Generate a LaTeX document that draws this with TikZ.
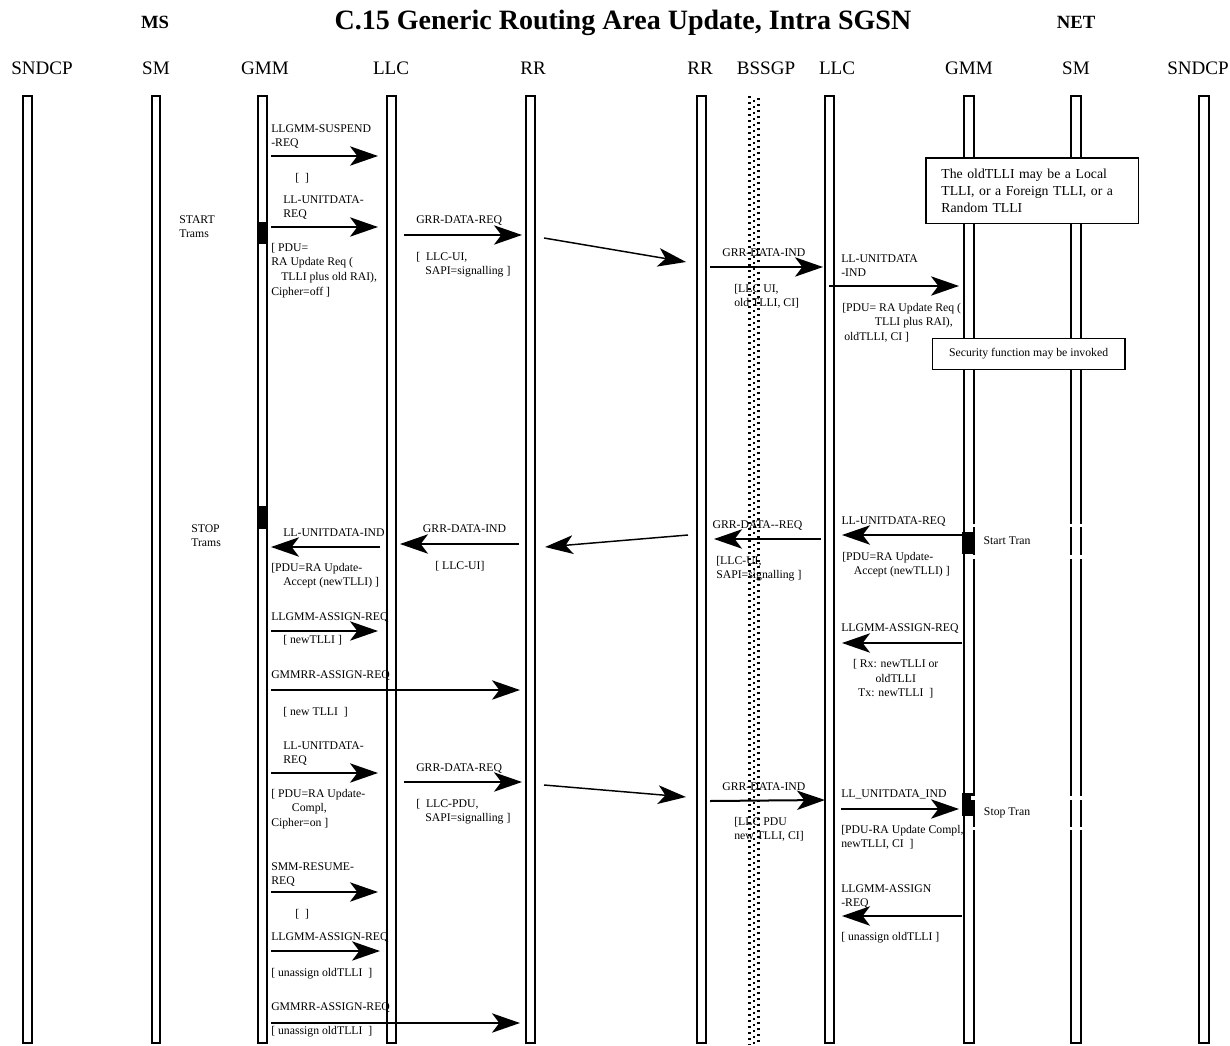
\documentclass[tikz,border=0pt]{standalone}
\usepackage{fontspec}
\setmainfont{Liberation Serif}
\usetikzlibrary{arrows.meta}

\begin{document}
\begin{tikzpicture}[x=0.75pt,y=-0.75pt,
  lifeline/.style={line width=1.4pt},
  msg/.style={line width=1.5pt, -{Stealth[length=21pt, width=14.5pt, inset=5.5pt]}},
  hop/.style={line width=1.1pt, -{Stealth[length=21pt, width=14pt, inset=5.5pt]}},
  hdr/.style={font=\fontsize{14.3}{16}\selectfont, inner sep=0pt},
  lbl/.style={font=\fontsize{8.8}{10.9}\selectfont, align=left, inner sep=0pt, anchor=north west},
  notebox/.style={draw, fill=white, line width=1.2pt, inner sep=0pt},
  actbar/.style={fill=black},
  dots/.style={line width=2pt, dash pattern=on 1.5pt off 3pt}]
\useasboundingbox (0,0) rectangle (1230,1045);

\node[font=\fontsize{21}{24}\selectfont\bfseries, inner sep=0pt, anchor=base] (title) at (623,30) {C.15 Generic Routing Area Update, Intra SGSN};
\node[hdr, font=\fontsize{14}{16}\selectfont\bfseries, anchor=base] (ms) at (155,29) {MS};
\node[hdr, font=\fontsize{14}{16}\selectfont\bfseries, anchor=base] (net) at (1076,29) {NET};

\node[hdr] (hSndcpA) at (42,68) {SNDCP};
\node[hdr] (hSmA) at (156,68) {SM};
\node[hdr] (hGmmA) at (265,68) {GMM};
\node[hdr] (hLlcA) at (391,68) {LLC};
\node[hdr] (hRrA) at (533,68) {RR};
\node[hdr] (hRrB) at (700,68) {RR};
\node[hdr] (hBssgp) at (766,68) {BSSGP};
\node[hdr] (hLlcB) at (837,68) {LLC};
\node[hdr] (hGmmB) at (969,68) {GMM};
\node[hdr] (hSmB) at (1076,68) {SM};
\node[hdr] (hSndcpB) at (1198,68) {SNDCP};

\draw[lifeline] (23,96) rectangle (32,1043);
\draw[lifeline] (152,96) rectangle (160,1043);
\draw[lifeline] (258,96) rectangle (267,1043);
\draw[lifeline] (387,96) rectangle (396,1043);
\draw[lifeline] (526,96) rectangle (535,1043);
\draw[lifeline] (697,96) rectangle (706,1043);
\draw[lifeline] (825,96) rectangle (834,1043);
\draw[lifeline] (964,96) rectangle (974,1043);
\draw[lifeline] (1071,96) rectangle (1081,1043);
\draw[lifeline] (1199,96) rectangle (1209,1043);

\fill[actbar] (258,222) rectangle (267,244);
\fill[actbar] (258,506) rectangle (267,529);
\fill[actbar] (962,531.7) rectangle (973,554.3);
\fill[actbar] (962,793) rectangle (973,816);
\fill[white] (971,523.5) rectangle (1084,527);
\fill[white] (971,555) rectangle (1084,558.5);
\fill[white] (971,796) rectangle (1084,799.5);
\fill[white] (971,826.5) rectangle (1084,830);

\node[notebox, anchor=north west, text width=136pt, inner xsep=11.7pt, minimum height=49.3pt, align=left,
  font=\fontsize{10.3}{12.5}\selectfont] (oldNote) at (925,157)
  {The oldTLLI may be a Local\\TLLI, or a Foreign TLLI, or a\\Random TLLI};
\node[notebox, minimum width=144.2pt, minimum height=23.25pt, font=\fontsize{8.8}{10.9}\selectfont] (secNote) at (1028.6,353.8)
  {Security function may be invoked};

% MS side
\node[lbl] (startLbl) at (179,215) {START\\Trams};
\node[lbl] (susLbl) at (271,124) {LLGMM-SUSPEND\\-REQ};
\node[lbl] (susPar) at (295,173) {[\ \ ]};
\node[lbl] (udrLbl) at (283,195) {LL-UNITDATA-\\REQ};
\node[lbl] (udrPar) at (271,243) {[ PDU=\\RA Update Req (\\\hspace*{7.5pt}TLLI plus old RAI),\\Cipher=off ]};
\node[lbl] (grrLbl) at (416,215) {GRR-DATA-REQ};
\node[lbl] (grrPar) at (416,252) {[\ \ LLC-UI,\\\hspace*{6.75pt}SAPI=signalling ]};
\node[lbl] (stopLbl) at (191,524) {STOP\\Trams};
\node[lbl] (uidLbl) at (283,528) {LL-UNITDATA-IND};
\node[lbl] (uidPar) at (271,563) {[PDU=RA Update-\\\hspace*{9pt}Accept (newTLLI) ]};
\node[lbl] (gdlLbl) at (422.7,524) {GRR-DATA-IND};
\node[lbl] (gdlPar) at (435,561) {[ LLC-UI]};
\node[lbl] (lasLbl) at (271,612) {LLGMM-ASSIGN-REQ};
\node[lbl] (lasPar) at (283,635) {[ newTLLI ]};
\node[lbl] (gasLbl) at (271,670) {GMMRR-ASSIGN-REQ};
\node[lbl] (gasPar) at (283,707) {[ new TLLI\ \ ]};
\node[lbl] (udcLbl) at (283,741) {LL-UNITDATA-\\REQ};
\node[lbl] (udcPar) at (271,789) {[ PDU=RA Update-\\\hspace*{15.5pt}Compl,\\Cipher=on ]};
\node[lbl] (grpLbl) at (416,763) {GRR-DATA-REQ};
\node[lbl] (grpPar) at (416,799) {[\ \ LLC-PDU,\\\hspace*{6.75pt}SAPI=signalling ]};
\node[lbl] (resLbl) at (271,862) {SMM-RESUME-\\REQ};
\node[lbl] (resPar) at (295,909) {[\ \ ]};
\node[lbl] (unaLbl) at (271,932) {LLGMM-ASSIGN-REQ};
\node[lbl] (unaPar) at (271,968) {[ unassign oldTLLI\ \ ]};
\node[lbl] (ungLbl) at (271,1002) {GMMRR-ASSIGN-REQ};
\node[lbl] (ungPar) at (271,1026) {[ unassign oldTLLI\ \ ]};

% NET side
\node[lbl] (gdiLbl) at (722,248) {GRR-DATA-IND};
\node[lbl] (gdiPar) at (734,284) {[LLC UI,\\old TLLI, CI]};
\node[lbl] (uiLbl) at (841,254) {LL-UNITDATA\\-IND};
\node[lbl] (uiPar) at (842,303) {[PDU= RA Update Req (\\\hspace*{24.5pt}TLLI plus RAI),\\\hspace*{1.5pt}oldTLLI, CI ]};
\node[lbl] (gdqLbl) at (712.3,520) {GRR-DATA-{}-REQ};
\node[lbl] (gdqPar) at (716,556) {[LLC-UI,\\SAPI=signalling ]};
\node[lbl] (udqLbl) at (841.3,516) {LL-UNITDATA-REQ};
\node[lbl] (udqPar) at (842,552) {[PDU=RA Update-\\\hspace*{8.7pt}Accept (newTLLI) ]};
\node[lbl, anchor=west] (startTran) at (983.4,540.7) {Start Tran};
\node[lbl] (rasLbl) at (841,623) {LLGMM-ASSIGN-REQ};
\node[lbl, align=center, anchor=north] (rasPar) at (895.7,659.3) {[ Rx: newTLLI or\\oldTLLI\\Tx: newTLLI\ \ ]};
\node[lbl] (gipLbl) at (722,782) {GRR-DATA-IND};
\node[lbl] (gipPar) at (734,817) {[LLC PDU\\new TLLI, CI]};
\node[lbl] (uicLbl) at (841,789) {LL\_UNITDATA\_IND};
\node[lbl] (uicPar) at (841,825) {[PDU-RA Update Compl,\\newTLLI, CI\ \ ]};
\node[lbl, anchor=west] (stopTran) at (983.7,813.3) {Stop Tran};
\node[lbl] (unrLbl) at (841,884) {LLGMM-ASSIGN\\-REQ};
\node[lbl] (unrPar) at (841,932) {[ unassign oldTLLI ]};

\draw[dots] (749.5,96) -- (749.5,1045);
\draw[dots, dash phase=1.5pt] (754,96) -- (754,1045);
\draw[dots, dash phase=3pt] (758.5,96) -- (758.5,1045);

\coordinate (susS) at (271,156);   \coordinate (susE) at (378,156);
\coordinate (udrS) at (271,227);   \coordinate (udrE) at (378,227);
\coordinate (grrS) at (404,235);   \coordinate (grrE) at (522,235);
\coordinate (airS) at (544,238);   \coordinate (airE) at (686,262);
\coordinate (gdiS) at (710,267);   \coordinate (gdiE) at (823,267);
\coordinate (uiS) at (829,286);    \coordinate (uiE) at (959,286);
\coordinate (uidS) at (380,547);   \coordinate (uidE) at (271,547);
\coordinate (gdlS) at (519,544);   \coordinate (gdlE) at (400,544);
\coordinate (airbS) at (688,535);  \coordinate (airbE) at (545,547);
\coordinate (gdqS) at (821,539);   \coordinate (gdqE) at (714,539);
\coordinate (udqS) at (962,535);   \coordinate (udqE) at (842,535);
\coordinate (lasS) at (271,631);   \coordinate (lasE) at (378,631);
\coordinate (gasS) at (271,690);   \coordinate (gasE) at (520,690);
\coordinate (rasS) at (962,643);   \coordinate (rasE) at (842,643);
\coordinate (udcS) at (271,773);   \coordinate (udcE) at (378,773);
\coordinate (grpS) at (404,782);   \coordinate (grpE) at (522,782);
\coordinate (aircS) at (544,785);  \coordinate (aircE) at (686,797);
\coordinate (gipS) at (710,801);   \coordinate (gipE) at (825,800);
\coordinate (uicS) at (841,809);   \coordinate (uicE) at (959,809);
\coordinate (resS) at (271,892);   \coordinate (resE) at (378,892);
\coordinate (unaS) at (271,951);   \coordinate (unaE) at (380,951);
\coordinate (ungS) at (271,1023);  \coordinate (ungE) at (520,1023);
\coordinate (unrS) at (962,916);   \coordinate (unrE) at (842,916);

\draw[msg] (susS) -- (susE);
\draw[msg] (udrS) -- (udrE);
\draw[msg] (grrS) -- (grrE);
\draw[hop] (airS) -- (airE);
\draw[msg] (gdiS) -- (gdiE);
\draw[msg] (uiS) -- (uiE);
\draw[msg] (uidS) -- (uidE);
\draw[msg] (gdlS) -- (gdlE);
\draw[hop] (airbS) -- (airbE);
\draw[msg] (gdqS) -- (gdqE);
\draw[msg] (udqS) -- (udqE);
\draw[msg] (lasS) -- (lasE);
\draw[msg] (gasS) -- (gasE);
\draw[msg] (rasS) -- (rasE);
\draw[msg] (udcS) -- (udcE);
\draw[msg] (grpS) -- (grpE);
\draw[hop] (aircS) -- (aircE);
\draw[msg] (gipS) -- (gipE);
\draw[msg] (uicS) -- (uicE);
\draw[msg] (resS) -- (resE);
\draw[msg] (unaS) -- (unaE);
\draw[msg] (ungS) -- (ungE);
\draw[msg] (unrS) -- (unrE);
\end{tikzpicture}
\end{document}
